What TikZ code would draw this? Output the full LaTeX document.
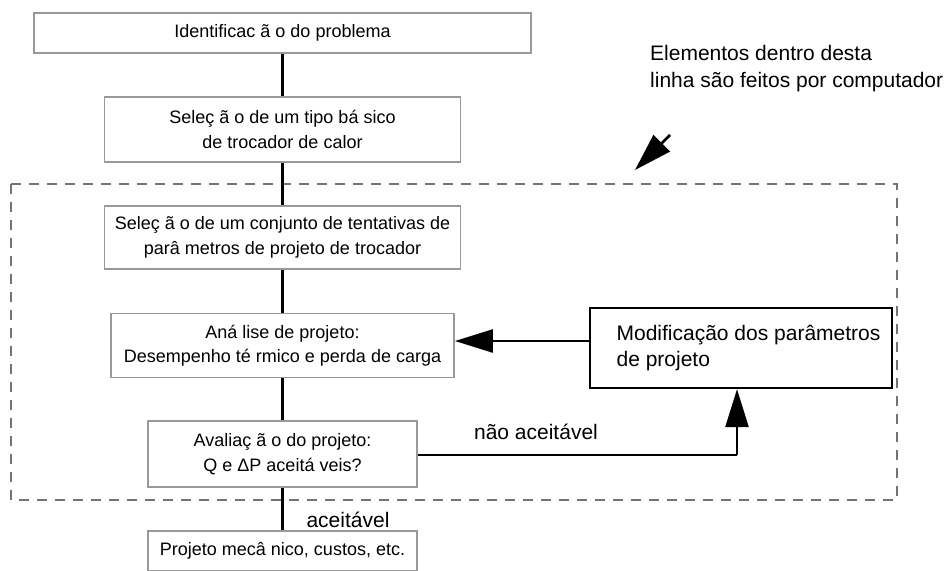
\documentclass[tikz,border=0pt]{standalone}
\usepackage{fontspec}
\setmainfont{Liberation Sans}
\usetikzlibrary{arrows.meta}

\begin{document}
\begin{tikzpicture}[x = 1pt, y = -1pt]
	\tikzstyle{grayBox} = [draw = black!40, line width = 1.8pt, align = center, inner sep = 0pt, font = \fontsize{18}{24.5}\selectfont]
	\tikzstyle{modBox} = [draw = black, line width = 2.2pt, inner sep = 0pt, minimum width = 302pt, minimum height = 80pt, font = \fontsize{21}{26}\selectfont]
	\tikzstyle{flowLine} = [line width = 3pt]
	\tikzstyle{loopArrow} = [line width = 2.5pt, -{Triangle[length = 38pt, width = 23pt]}]
	\tikzstyle{noteText} = [align = left, inner sep = 0pt, font = \fontsize{21}{27}\selectfont]
	\tikzstyle{frameLine} = [draw = black!55, line width = 1.2pt, dash pattern = on 10pt off 8pt]
	\useasboundingbox (0, 0) rectangle (949, 570);
	\draw[frameLine] (11, 184) rectangle (897, 500);
	\node[grayBox, minimum width = 497pt, minimum height = 40pt] (ident) at (282.5, 33) {Identificac ã o do problema};
	\node[grayBox, minimum width = 356pt, minimum height = 65pt] (tipo) at (282.5, 129.5) {Seleç ã o de um tipo bá sico\\de trocador de calor};
	\node[grayBox, minimum width = 356pt, minimum height = 63pt] (conj) at (282.5, 237.5) {Seleç ã o de um conjunto de tentativas de\\parâ metros de projeto de trocador};
	\node[grayBox, minimum width = 343pt, minimum height = 64pt] (anal) at (282.5, 345.5) {Aná lise de projeto:\\Desempenho té rmico e perda de carga};
	\node[grayBox, minimum width = 269pt, minimum height = 66pt] (aval) at (282.5, 454) {Avaliaç ã o do projeto:\\Q e ΔP aceitá veis?};
	\node[grayBox, minimum width = 269pt, minimum height = 40pt] (mec) at (282.5, 551) {Projeto mecâ nico, custos, etc.};
	\node[modBox] (modif) at (741, 348) {\hspace*{15pt}\raisebox{-7pt}{\begin{tabular}{@{}l@{}}Modificação dos parâmetros\\de projeto\end{tabular}}};
	\node[noteText, anchor = west] (note) at (650, 68.5) {Elementos dentro desta\\linha são feitos por computador};
	\node[inner sep = 0pt, font = \fontsize{21}{26}\selectfont] (lblNo) at (536, 432) {não aceitável};
	\node[inner sep = 0pt, font = \fontsize{21}{26}\selectfont] (lblYes) at (348, 520) {aceitável};
	\coordinate (turn) at (737, 455);
	\coordinate (ptrTail) at (670, 135);
	\coordinate (ptrTip) at (635, 170);
	\draw[flowLine] (ident.south) -- (tipo.north);
	\draw[flowLine] (tipo.south) -- (conj.north);
	\draw[flowLine] (conj.south) -- (anal.north);
	\draw[flowLine] (anal.south) -- (aval.north);
	\draw[flowLine] (aval.south) -- (mec.north);
	\draw[loopArrow] ([yshift = 7pt]modif.west) -- ([yshift = 7pt]modif.west -| anal.east);
	\draw[line width = 2.5pt] (aval.east |- turn) -- (turn);
	\draw[loopArrow] (turn) -- (turn |- modif.south);
	\draw[loopArrow] (ptrTail) -- (ptrTip);
\end{tikzpicture}
\end{document}
